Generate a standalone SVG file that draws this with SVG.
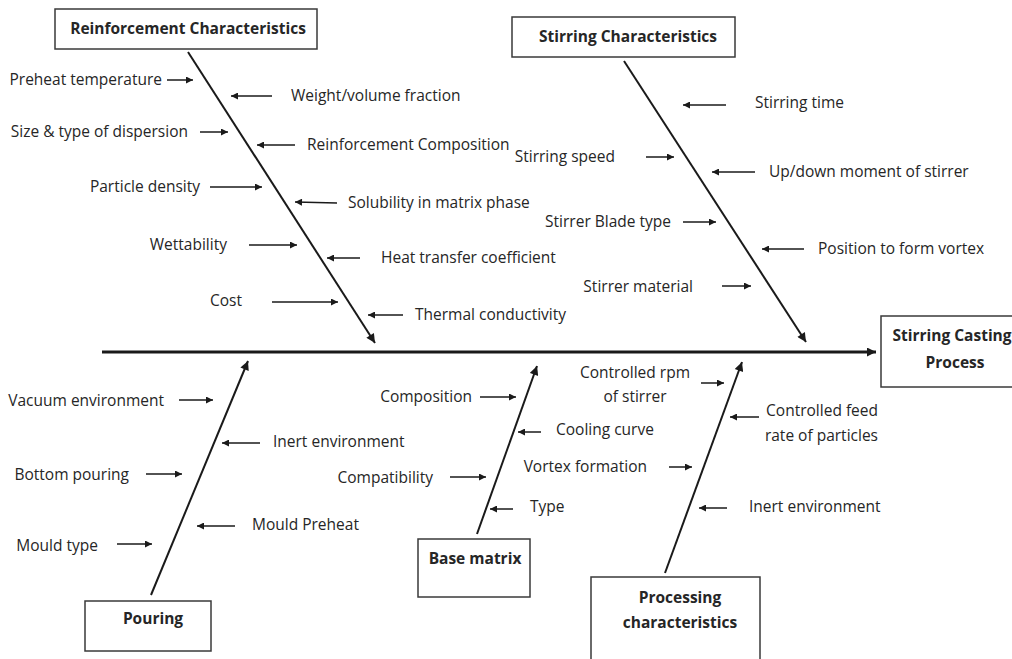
<svg xmlns="http://www.w3.org/2000/svg" width="1012" height="659" viewBox="0 0 1012 659">
<style>
text{font-family:"Open Sans","Liberation Sans",sans-serif;font-size:15.5px;fill:#262626}
.t{font-weight:bold;font-size:15.5px}
.e{text-anchor:end}
.m{text-anchor:middle}
.box{fill:#fff;stroke:#3a3a3a;stroke-width:1.5}
.a{stroke:#1a1a1a;stroke-width:1.5;fill:none;marker-end:url(#ah)}
.r{stroke:#1a1a1a;stroke-width:2;fill:none;marker-end:url(#ahb)}
.s{stroke:#1a1a1a;stroke-width:3;fill:none;marker-end:url(#ahb)}
</style>
<defs>
<marker id="ah" viewBox="0 0 10 10" refX="10" refY="5" markerWidth="8" markerHeight="7" markerUnits="userSpaceOnUse" orient="auto"><path d="M0,0L10,5L0,10z" fill="#1a1a1a"/></marker>
<marker id="ahb" viewBox="0 0 10 10" refX="10" refY="5" markerWidth="11" markerHeight="9" markerUnits="userSpaceOnUse" orient="auto"><path d="M0,0L10,5L0,10z" fill="#1a1a1a"/></marker>
</defs>
<rect width="1012" height="659" fill="#fff"/>
<g id="connectors">
<line class="s" x1="102" y1="352" x2="876" y2="352"/>
<line class="r" x1="188" y1="52" x2="375" y2="343"/>
<line class="r" x1="624" y1="61" x2="806" y2="342"/>
<line class="r" x1="151" y1="595" x2="248" y2="361"/>
<line class="r" x1="477" y1="534" x2="537" y2="366"/>
<line class="r" x1="665" y1="573" x2="742" y2="362"/>
<line class="a" x1="167" y1="80" x2="193" y2="80"/>
<line class="a" x1="272" y1="96" x2="231" y2="96"/>
<line class="a" x1="200" y1="132" x2="228" y2="132"/>
<line class="a" x1="295" y1="145" x2="257" y2="145"/>
<line class="a" x1="210" y1="187" x2="262" y2="187"/>
<line class="a" x1="337" y1="203" x2="295" y2="202"/>
<line class="a" x1="249" y1="245" x2="297" y2="245"/>
<line class="a" x1="360" y1="258" x2="327" y2="258"/>
<line class="a" x1="272" y1="302" x2="338" y2="302"/>
<line class="a" x1="403" y1="315" x2="368" y2="315"/>
<line class="a" x1="726" y1="105" x2="683" y2="105"/>
<line class="a" x1="646" y1="157" x2="674" y2="157"/>
<line class="a" x1="755" y1="172" x2="712" y2="172"/>
<line class="a" x1="683" y1="222" x2="716" y2="222"/>
<line class="a" x1="804" y1="249" x2="762" y2="249"/>
<line class="a" x1="722" y1="286" x2="751" y2="286"/>
<line class="a" x1="179" y1="400" x2="213" y2="400"/>
<line class="a" x1="260" y1="443" x2="222" y2="443"/>
<line class="a" x1="146" y1="474" x2="182" y2="474"/>
<line class="a" x1="235" y1="526" x2="197" y2="526"/>
<line class="a" x1="117" y1="544" x2="152" y2="544"/>
<line class="a" x1="480" y1="397" x2="516" y2="397"/>
<line class="a" x1="541" y1="432" x2="518" y2="432"/>
<line class="a" x1="450" y1="477" x2="486" y2="477"/>
<line class="a" x1="513" y1="509" x2="490" y2="509"/>
<line class="a" x1="701" y1="383" x2="724" y2="383"/>
<line class="a" x1="759" y1="417" x2="730" y2="417"/>
<line class="a" x1="669" y1="467" x2="692" y2="467"/>
<line class="a" x1="727" y1="508" x2="699" y2="508"/>
</g>
<g id="reinforcement">
<rect class="box" x="55" y="9" width="262" height="40"/>
<text class="t m" x="188" y="34">Reinforcement Characteristics</text>
</g>
<g id="stirring">
<rect class="box" x="512" y="17" width="223" height="40"/>
<text class="t m" x="628" y="42">Stirring Characteristics</text>
</g>
<g id="head">
<rect class="box" x="881" y="316" width="140" height="71"/>
<text class="t m" x="952" y="341">Stirring Casting</text>
<text class="t m" x="955" y="368">Process</text>
</g>
<g id="pouring">
<rect class="box" x="85" y="601" width="126" height="50"/>
<text class="t m" x="153" y="624">Pouring</text>
</g>
<g id="base-matrix">
<rect class="box" x="418" y="539" width="112" height="58"/>
<text class="t m" x="475" y="564">Base matrix</text>
</g>
<g id="processing">
<rect class="box" x="591" y="577" width="169" height="100"/>
<text class="t m" x="680" y="603">Processing</text>
<text class="t m" x="680" y="628">characteristics</text>
</g>
<g id="labels">
<text class="e" x="162" y="85">Preheat temperature</text>
<text class="e" x="188" y="137">Size &amp; type of dispersion</text>
<text class="e" x="200" y="192">Particle density</text>
<text class="e" x="227" y="250">Wettability</text>
<text class="e" x="242" y="306">Cost</text>
<text x="291" y="101">Weight/volume fraction</text>
<text x="307" y="150">Reinforcement Composition</text>
<text x="348" y="208">Solubility in matrix phase</text>
<text x="381" y="263">Heat transfer coefficient</text>
<text x="415" y="320">Thermal conductivity</text>
<text class="e" x="615" y="162">Stirring speed</text>
<text class="e" x="671" y="227">Stirrer Blade type</text>
<text class="e" x="693" y="292">Stirrer material</text>
<text x="755" y="108">Stirring time</text>
<text x="769" y="177">Up/down moment of stirrer</text>
<text x="818" y="254">Position to form vortex</text>
<text class="e" x="164" y="406">Vacuum environment</text>
<text class="e" x="129" y="480">Bottom pouring</text>
<text class="e" x="98" y="551">Mould type</text>
<text x="273" y="447">Inert environment</text>
<text x="252" y="530">Mould Preheat</text>
<text class="e" x="472" y="402">Composition</text>
<text class="e" x="433" y="483">Compatibility</text>
<text x="556" y="435">Cooling curve</text>
<text x="530" y="512">Type</text>
<text class="m" x="635" y="378">Controlled rpm</text>
<text class="m" x="635" y="402">of stirrer</text>
<text class="e" x="647" y="472">Vortex formation</text>
<text class="e" x="878" y="416">Controlled feed</text>
<text class="e" x="878" y="441">rate of particles</text>
<text x="749" y="512">Inert environment</text>
</g>
</svg>
